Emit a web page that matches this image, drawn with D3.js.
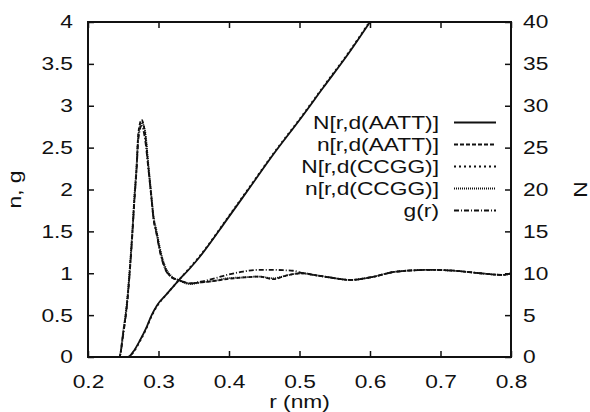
<!DOCTYPE html>
<html>
<head>
<meta charset="utf-8">
<script src="https://cdn.jsdelivr.net/npm/d3@7"></script>
<style>
  body { margin: 0; background: #fff; }
  svg { display: block; font-family: "Liberation Sans", Arial, sans-serif; }
</style>
</head>
<body>
<svg id="grafico" width="590" height="412"></svg>
<script>
// cumulative curves N (right axis)
var rN = [0.2, 0.257, 0.2643, 0.2738, 0.2833, 0.2903, 0.2974, 0.3116, 0.328, 0.3447, 0.3589, 0.397, 0.43, 0.463, 0.5, 0.534, 0.57, 0.6];
var nAATTcum = [0, 0, 0.64, 2.0, 3.6, 5.0, 6.1, 7.5, 9.1, 10.6, 12.0, 16.4, 20.3, 24.2, 28.3, 32.2, 36.3, 40];
var nCCGGcum = [0, 0, 0.55, 1.9, 3.5, 4.9, 6.0, 7.5, 9.1, 10.7, 12.1, 16.5, 20.4, 24.3, 28.4, 32.3, 36.4, 40.1];

// g(r) and n curves (left axis)
var rG = [0.2, 0.2444, 0.25, 0.2558, 0.2596, 0.2629, 0.2657, 0.269, 0.2714, 0.276, 0.2809, 0.2856, 0.2903, 0.2927, 0.2974, 0.302, 0.309, 0.319, 0.328, 0.345, 0.36, 0.38, 0.397, 0.42, 0.442, 0.463, 0.48, 0.491, 0.505, 0.52, 0.543, 0.572, 0.6, 0.638, 0.685, 0.72, 0.756, 0.789, 0.8];
var gR     = [0, 0, 0.27, 0.66, 1.05, 1.46, 1.85, 2.25, 2.6, 2.76, 2.6, 2.25, 1.87, 1.67, 1.46, 1.26, 1.06, 0.95, 0.92, 0.88, 0.9, 0.94, 0.98, 1.02, 1.04, 1.04, 1.035, 1.03, 1.0, 0.98, 0.95, 0.92, 0.95, 1.02, 1.04, 1.03, 1.0, 0.98, 1.0];
var nAATT  = [0, 0, 0.29, 0.68, 1.07, 1.48, 1.87, 2.27, 2.67, 2.83, 2.67, 2.27, 1.87, 1.67, 1.48, 1.28, 1.07, 0.95, 0.92, 0.88, 0.89, 0.91, 0.93, 0.95, 0.96, 0.93, 0.97, 0.99, 1.0, 0.98, 0.95, 0.92, 0.95, 1.02, 1.04, 1.03, 1.0, 0.98, 1.0];
var nCCGG  = [0, 0, 0.31, 0.7, 1.1, 1.5, 1.9, 2.3, 2.64, 2.8, 2.7, 2.3, 1.9, 1.7, 1.5, 1.3, 1.09, 0.96, 0.92, 0.87, 0.89, 0.91, 0.94, 0.95, 0.96, 0.94, 0.97, 0.99, 1.0, 0.98, 0.95, 0.92, 0.95, 1.02, 1.04, 1.03, 1.0, 0.98, 1.0];

var legenda = ["N[r,d(AATT)]", "n[r,d(AATT)]", "N[r,d(CCGG)]", "n[r,d(CCGG)]", "g(r)"];
var tracos = ["", "4,2", "2,3", "1,1", "5,2,1,2"];
var xTicks = [0.2, 0.3, 0.4, 0.5, 0.6, 0.7, 0.8];
var yTicks = [0, 0.5, 1, 1.5, 2, 2.5, 3, 3.5, 4];
var y2Ticks = [0, 5, 10, 15, 20, 25, 30, 35, 40];

var svg = d3.select("#grafico");
var mLeft = 88, mRight = 511, mTop = 22, mBottom = 357;
var cor = "#111";
var fs = 18.5, k = 1.23; // font looks horizontally stretched in the scan

var x = d3.scaleLinear().domain([0.2, 0.8]).range([mLeft, mRight]);
var y = d3.scaleLinear().domain([0, 4]).range([mBottom, mTop]);
var y2 = d3.scaleLinear().domain([0, 40]).range([mBottom, mTop]);

var series = [
    {r: rN, v: nAATTcum, esc: y2, dash: tracos[0]},
    {r: rG, v: nAATT, esc: y, dash: tracos[1]},
    {r: rN, v: nCCGGcum, esc: y2, dash: tracos[2]},
    {r: rG, v: nCCGG, esc: y, dash: tracos[3]},
    {r: rG, v: gR, esc: y, dash: tracos[4]}
];

svg.append("clipPath").attr("id", "clip")
    .append("rect").attr("x", mLeft).attr("y", mTop).attr("width", mRight - mLeft).attr("height", mBottom - mTop);

var plot = svg.append("g").attr("clip-path", "url(#clip)");
series.forEach(function(s) {
    var line = d3.line()
        .x((d, i) => x(s.r[i]))
        .y((d) => s.esc(d))
        .curve(d3.curveMonotoneX);
    plot.append("path")
        .attr("d", line(s.v))
        .attr("fill", "none")
        .attr("stroke", cor)
        .attr("stroke-width", 1.8)
        .attr("stroke-dasharray", s.dash || null);
});

function estica(sel) {
    sel.each(function() {
        var t = d3.select(this);
        var tx = +t.attr("x") || 0;
        var tr = t.attr("transform") || "";
        t.attr("x", tx / k).attr("transform", tr + " scale(" + k + ",1)");
    });
}

// axes, ticks inward
var ax = svg.append("g");
ax.append("g").attr("transform", "translate(0," + mBottom + ")")
    .call(d3.axisBottom(x).tickValues(xTicks).tickSizeInner(-6).tickSizeOuter(0).tickPadding(18).tickFormat(d3.format(".1f")));
ax.append("g").attr("transform", "translate(0," + mTop + ")")
    .call(d3.axisTop(x).tickValues(xTicks).tickSizeInner(-6).tickSizeOuter(0).tickFormat(""));
ax.append("g").attr("transform", "translate(" + mLeft + ",0)")
    .call(d3.axisLeft(y).tickValues(yTicks).tickSizeInner(-6).tickSizeOuter(0).tickPadding(15).tickFormat(d3.format("~g")));
ax.append("g").attr("transform", "translate(" + mRight + ",0)")
    .call(d3.axisRight(y2).tickValues(y2Ticks).tickSizeInner(-6).tickSizeOuter(0).tickPadding(12));

ax.selectAll(".domain").remove();
ax.selectAll(".tick line").attr("stroke", cor).attr("stroke-width", 1.5);
ax.selectAll(".tick text")
    .attr("fill", cor)
    .attr("font-family", "Liberation Sans, Arial, sans-serif")
    .attr("font-size", fs)
    .call(estica);

svg.append("rect")
    .attr("x", mLeft).attr("y", mTop)
    .attr("width", mRight - mLeft).attr("height", mBottom - mTop)
    .attr("fill", "none").attr("stroke", cor).attr("stroke-width", 2);

// titles
svg.append("text")
    .attr("transform", "translate(" + (mLeft + mRight) / 2 + ",408)")
    .attr("text-anchor", "middle").attr("font-size", fs).attr("fill", cor)
    .text("r (nm)").call(estica);
svg.append("text")
    .attr("transform", "translate(21," + (mTop + mBottom) / 2 + ") rotate(-90)")
    .attr("text-anchor", "middle").attr("font-size", fs).attr("fill", cor)
    .text("n, g").call(estica);
svg.append("text")
    .attr("transform", "translate(587," + (mTop + mBottom) / 2 + ") rotate(-90)")
    .attr("text-anchor", "middle").attr("font-size", fs).attr("fill", cor)
    .text("N").call(estica);

// legend
var legend = svg.append("g")
    .selectAll("g")
    .data(legenda)
    .enter().append("g")
    .attr("transform", (d, i) => "translate(0," + (122.5 + i * 22) + ")");

legend.append("text")
    .attr("x", 439)
    .attr("dy", "0.35em")
    .attr("text-anchor", "end")
    .attr("font-size", fs)
    .attr("fill", cor)
    .text(d => d)
    .call(estica);

legend.append("line")
    .attr("x1", 454).attr("x2", 496)
    .attr("stroke", cor).attr("stroke-width", 1.8)
    .attr("stroke-dasharray", (d, i) => tracos[i] || null);
</script>
</body>
</html>
